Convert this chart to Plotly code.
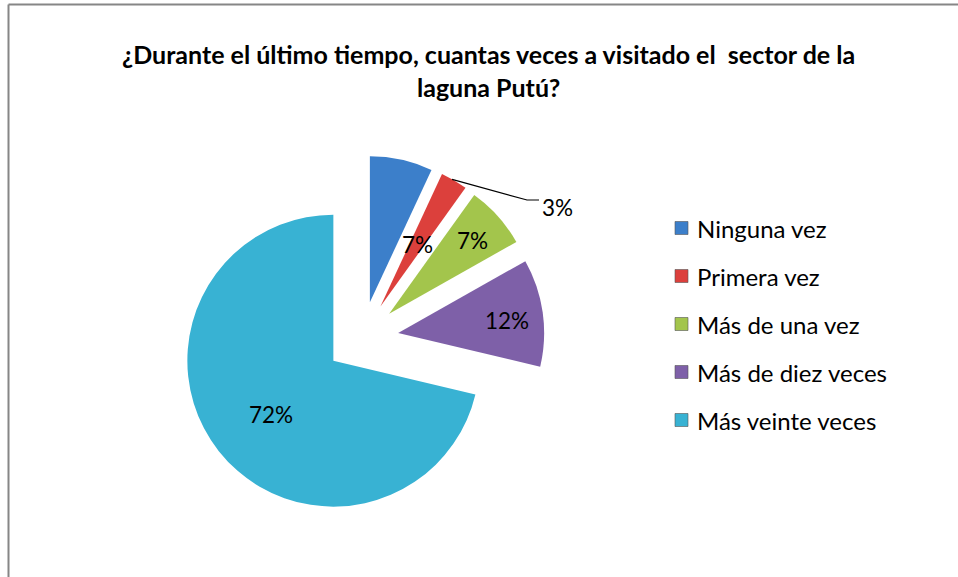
import math
import plotly.graph_objects as go

# ---- data ----
categories = ["Ninguna vez", "Primera vez", "Más de una vez", "Más de diez veces", "Más veinte veces"]
percent_values = [7, 3, 7, 12, 72]
colors = ["#3C7FCA", "#DC403C", "#A3C54C", "#7E60A8", "#38B2D3"]
title_text = "¿Durante el último tiempo, cuantas veces a visitado el  sector de la<br>laguna Putú?"

W, H = 958, 577
FONT = "Lato"


def px(x):
    return x / W


def py(y):
    return 1 - y / H


# pie geometry (pixels)
CX, CY = 362, 338
R = 146
PULL = 0.25
half = R * (1 + PULL)

fig = go.Figure()
fig.add_trace(go.Pie(
    labels=categories,
    values=percent_values,
    marker=dict(colors=colors, line=dict(width=0)),
    sort=False,
    direction="clockwise",
    rotation=0,
    pull=[PULL] * len(percent_values),
    textinfo="none",
    hoverinfo="label+value",
    showlegend=False,
    domain=dict(x=[px(CX - half), px(CX + half)], y=[py(CY + half), py(CY - half)]),
))

annotations = []
shapes = []

LABEL_SIZE = 22.5
# data labels (text placement in pixels, matching the reference layout)
label_pos = [(417, 245), None, (472, 240), (507, 320), (247, 430)]
for v, pos in zip(percent_values, label_pos):
    if pos is None:
        continue
    annotations.append(dict(x=px(pos[0]), y=py(pos[1]), xref="paper", yref="paper",
                            text=f"{v}%", showarrow=False,
                            font=dict(family=FONT, size=LABEL_SIZE, color="#000000")))

# outside label for the small slice with a leader line
total = sum(percent_values)
start = sum(percent_values[:1]) / total * 360
mid = math.radians(start + percent_values[1] / total * 360 / 2)
d = PULL * R
ax0 = CX + d * math.sin(mid) + R * math.sin(mid)
ay0 = CY - d * math.cos(mid) - R * math.cos(mid)
shapes.append(dict(type="path", xref="paper", yref="paper",
                   path=f"M {px(ax0 - 2)} {py(ay0 - 1)} L {px(527)} {py(200)} L {px(539)} {py(200)}",
                   line=dict(color="#000000", width=1.2)))
annotations.append(dict(x=px(540), y=py(192), xref="paper", yref="paper", xanchor="left",
                        text=f"{percent_values[1]}%", showarrow=False,
                        font=dict(family=FONT, size=LABEL_SIZE, color="#000000")))

# manual legend
for i, (cat, col) in enumerate(zip(categories, colors)):
    yc = 228 + i * 48
    shapes.append(dict(type="rect", xref="paper", yref="paper",
                       x0=px(675), x1=px(688), y0=py(yc + 6.5), y1=py(yc - 6.5),
                       fillcolor=col, line=dict(width=0.6, color="#555555")))
    annotations.append(dict(x=px(695), y=py(yc), xref="paper", yref="paper",
                            xanchor="left", yanchor="middle", text=cat, showarrow=False,
                            font=dict(family=FONT, size=24, color="#000000")))

# title
annotations.append(dict(x=px(488), y=py(71), xref="paper", yref="paper",
                        xanchor="center", yanchor="middle", text=f"<b>{title_text}</b>",
                        showarrow=False, align="center",
                        font=dict(family=FONT, size=25, color="#000000")))

# chart border (top and left edges visible)
shapes.append(dict(type="line", xref="paper", yref="paper", x0=px(8.5), x1=1,
                   y0=py(4.5), y1=py(4.5), line=dict(color="#868686", width=2)))
shapes.append(dict(type="line", xref="paper", yref="paper", x0=px(8.5), x1=px(8.5),
                   y0=py(4.5), y1=0, line=dict(color="#868686", width=2)))

fig.update_layout(
    width=W, height=H,
    margin=dict(l=0, r=0, t=0, b=0),
    paper_bgcolor="white", plot_bgcolor="white",
    annotations=annotations, shapes=shapes,
    showlegend=False,
)

fig.write_html("out.html", config={"displayModeBar": False},
               post_script="document.body.style.margin='0px';document.body.style.overflow='hidden';")
